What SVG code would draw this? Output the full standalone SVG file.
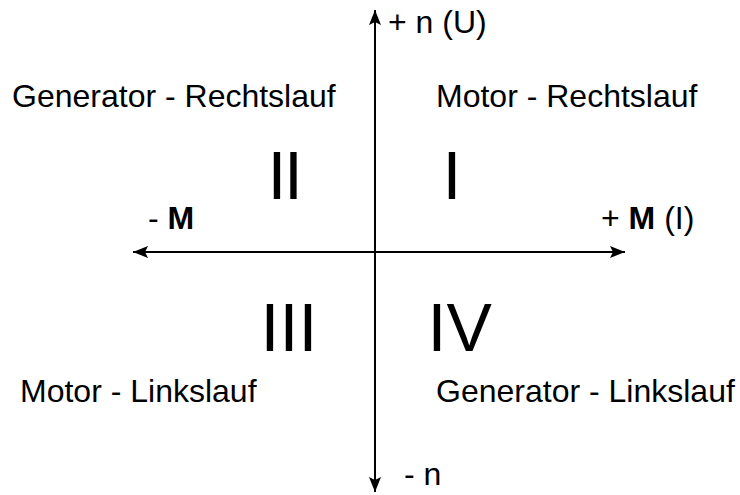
<svg xmlns="http://www.w3.org/2000/svg" width="740" height="495" viewBox="0 0 740 495">
<style>
.lbl{font-family:"Liberation Sans",Arial,sans-serif;font-size:32px;fill:#000}
.num{font-family:"Liberation Sans",Arial,sans-serif;font-size:68px;fill:#000}
.ax{stroke:#000;stroke-width:2;fill:none}
.b{font-weight:bold}
</style>
<defs>
<marker id="arr" markerWidth="16" markerHeight="14" refX="15" refY="7" orient="auto" markerUnits="userSpaceOnUse">
<path d="M0,1 L15,7 L0,13 L3,7 Z" fill="#000"/>
</marker>
</defs>
<rect width="740" height="495" fill="#fff"/>
<g id="connectors">
<line class="ax" x1="375" y1="252" x2="375" y2="10" marker-end="url(#arr)"/>
<line class="ax" x1="375" y1="252" x2="375" y2="492" marker-end="url(#arr)"/>
<line class="ax" x1="375" y1="252" x2="133" y2="252" marker-end="url(#arr)"/>
<line class="ax" x1="375" y1="252" x2="625" y2="252" marker-end="url(#arr)"/>
</g>
<g id="axis-labels">
<text class="lbl" x="388" y="33">+ n (U)</text>
<text class="lbl" x="404" y="485">- n</text>
<text class="lbl" x="148" y="229">- <tspan class="b">M</tspan></text>
<text class="lbl" x="601" y="229">+ <tspan class="b">M</tspan> (I)</text>
</g>
<g id="q1"><text class="lbl" x="436" y="107">Motor - Rechtslauf</text><text class="num" x="442.6" y="199">I</text></g>
<g id="q2"><text class="lbl" x="12" y="107">Generator - Rechtslauf</text><text class="num" x="267.6" y="199" letter-spacing="-2.5">II</text></g>
<g id="q3"><text class="lbl" x="20" y="402">Motor - Linkslauf</text><text class="num" x="260.6" y="351">III</text></g>
<g id="q4"><text class="lbl" x="436" y="402">Generator - Linkslauf</text><text class="num" x="427.6" y="351">IV</text></g>
</svg>
